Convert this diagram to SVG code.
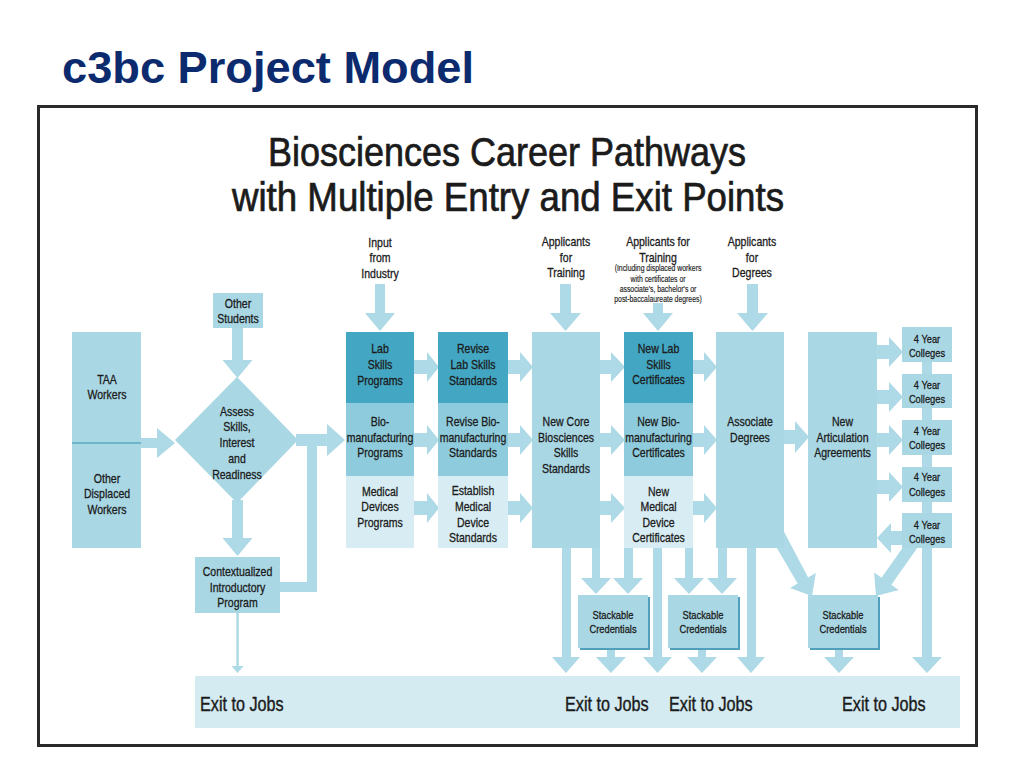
<svg xmlns="http://www.w3.org/2000/svg" width="1024" height="768" viewBox="0 0 1024 768">
<style>
.t{font-family:"Liberation Sans",Arial,sans-serif;fill:#1b1b1b;stroke:#1b1b1b;stroke-width:.3;text-anchor:middle;font-size:13px}
.s{font-size:11.5px}
.xs{font-size:8.5px;stroke-width:.15}
.ex{font-size:20px;text-anchor:start;stroke-width:.4}
.hd{font-size:40px;stroke-width:.7}
.box{fill:#a9d7e4}
.dark{fill:#43a6c2}
.mid{fill:#8ecbdc}
.light{fill:#d8edf3}
.arr{fill:#aed9e6}
.shadow{fill:#4f9fbd}
</style>
<rect width="1024" height="768" fill="#ffffff"/>
<text x="62" y="83" font-family="Liberation Sans,Arial,sans-serif" font-weight="bold" font-size="44" fill="#0c2a6e" textLength="412" lengthAdjust="spacingAndGlyphs">c3bc Project Model</text>
<rect x="38.5" y="106.5" width="938" height="639" fill="#ffffff" stroke="#2a2a2a" stroke-width="3"/>
<text class="t hd" x="507" y="166" textLength="478" lengthAdjust="spacingAndGlyphs">Biosciences Career Pathways</text>
<text class="t hd" x="508" y="211" textLength="552" lengthAdjust="spacingAndGlyphs">with Multiple Entry and Exit Points</text>

<g id="exit-bar">
<rect x="195" y="676" width="765" height="52" fill="#d5ebf2"/>
<text class="t ex" transform="translate(200 711) scale(.81 1)">Exit to Jobs</text>
<text class="t ex" transform="translate(565 711) scale(.81 1)">Exit to Jobs</text>
<text class="t ex" transform="translate(669 711) scale(.81 1)">Exit to Jobs</text>
<text class="t ex" transform="translate(842 711) scale(.81 1)">Exit to Jobs</text>
</g>

<g id="connectors" class="arr">
<polygon points="141,438 157,438 157,428 175,443 157,458 157,448 141,448"/>
<polygon points="232,328 243,328 243,360 252.5,360 237.5,378 222.5,360 232,360"/>
<polygon points="232,500 243,500 243,538 252.5,538 237.5,556 222.5,538 232,538"/>
<polygon points="296,434 327,434 327,424 345,440 327,456 327,446 296,446"/>
<polygon points="280,582 307,582 307,444 317,444 317,592 280,592"/>
<rect x="236.3" y="613" width="2.5" height="54"/>
<polygon points="231.5,666 243.5,666 237.5,673"/>
<polygon points="375,284 385,284 385,313 395,313 380,331 365,313 375,313"/>
<polygon points="560,284 571,284 571,313 581,313 565.5,331 550,313 560,313"/>
<polygon points="653,303 663,303 663,313 673,313 658,331 643,313 653,313"/>
<polygon points="747,284 758,284 758,313 768,313 752.5,331 737,313 747,313"/>
<polygon points="413,360 427,360 427,352 439,367 427,382 427,374 413,374"/>
<polygon points="413,433 427,433 427,425 439,440 427,455 427,447 413,447"/>
<polygon points="413,501 427,501 427,493 439,508 427,523 427,515 413,515"/>
<polygon points="508,360 520,360 520,352 533,367 520,382 520,374 508,374"/>
<polygon points="508,433 520,433 520,425 533,440 520,455 520,447 508,447"/>
<polygon points="508,501 520,501 520,493 533,508 520,523 520,515 508,515"/>
<polygon points="600,360 611,360 611,352 625,367 611,382 611,374 600,374"/>
<polygon points="600,433 611,433 611,425 625,440 611,455 611,447 600,447"/>
<polygon points="600,501 611,501 611,493 625,508 611,523 611,515 600,515"/>
<polygon points="693,360 704,360 704,352 717,367 704,382 704,374 693,374"/>
<polygon points="693,433 704,433 704,425 717,440 704,455 704,447 693,447"/>
<polygon points="693,501 704,501 704,493 717,508 704,523 704,515 693,515"/>
<polygon points="784,430 795,430 795,421 809,437 795,453 795,444 784,444"/>
<polygon points="877,345 889,345 889,337 903,352 889,367 889,359 877,359"/>
<polygon points="877,390 889,390 889,382 903,397 889,412 889,404 877,404"/>
<polygon points="877,433 889,433 889,425 903,440 889,455 889,447 877,447"/>
<polygon points="877,480 889,480 889,472 903,487 889,502 889,494 877,494"/>
<polygon points="903,531 891,531 891,523 877,538 891,553 891,545 903,545"/>
<polygon points="922,345 932,345 932,657 942,657 927,673 912,657 922,657"/>
<polygon points="562,546 571,546 571,657 580,657 566,673 552,657 562,657"/>
<polygon points="592,546 600,546 600,578 611,578 596,594 581,578 592,578"/>
<polygon points="624,546 633,546 633,578 643,578 628,594 613,578 624,578"/>
<polygon points="653,546 662,546 662,657 672,657 657.5,673 643,657 653,657"/>
<polygon points="685,546 693,546 693,578 704,578 689,594 674,578 685,578"/>
<polygon points="718,546 727,546 727,578 737,578 722,594 707,578 718,578"/>
<polygon points="747,546 756,546 756,657 765,657 751,673 737,657 747,657"/>
<polygon points="607,646 615,646 615,657 626,657 611,673 596,657 607,657"/>
<polygon points="698,646 706,646 706,657 717,657 702,673 687,657 698,657"/>
<polygon points="835,646 843,646 843,657 854,657 839,673 824,657 835,657"/>
<polygon points="784.2,532 808.1,577.5 815.8,572.9 812,596 790,588.1 797.7,583.5 771,538"/>
<polygon points="907.1,541.5 881.5,577.8 874.1,572.6 876,596 898.7,590 891.3,584.8 916.9,548.5"/>
</g>

<g id="taa-workers">
<rect class="box" x="72" y="332" width="69" height="216"/>
<rect x="72" y="442" width="69" height="2" fill="#6db5ca"/>
<text class="t" transform="translate(107 384) scale(.81 1)">TAA</text>
<text class="t" transform="translate(107 399) scale(.81 1)">Workers</text>
<text class="t" transform="translate(107 483) scale(.81 1)">Other</text>
<text class="t" transform="translate(107 498) scale(.81 1)">Displaced</text>
<text class="t" transform="translate(107 514) scale(.81 1)">Workers</text>
</g>

<g id="other-students">
<rect class="box" x="213" y="293" width="50" height="35"/>
<text class="t" transform="translate(238 307.5) scale(.81 1)">Other</text>
<text class="t" transform="translate(238 322.5) scale(.81 1)">Students</text>
</g>

<g id="assess">
<polygon class="box" points="237,377 298,440 237,503 175,440"/>
<text class="t" transform="translate(237 416) scale(.81 1)">Assess</text>
<text class="t" transform="translate(237 431) scale(.81 1)">Skills,</text>
<text class="t" transform="translate(237 447) scale(.81 1)">Interest</text>
<text class="t" transform="translate(237 463) scale(.81 1)">and</text>
<text class="t" transform="translate(237 479) scale(.81 1)">Readiness</text>
</g>

<g id="contextualized">
<rect class="box" x="195" y="557" width="85" height="56"/>
<text class="t" transform="translate(237.5 576) scale(.81 1)">Contextualized</text>
<text class="t" transform="translate(237.5 592) scale(.81 1)">Introductory</text>
<text class="t" transform="translate(237.5 607) scale(.81 1)">Program</text>
</g>

<g id="input-industry">
<text class="t" transform="translate(380 247) scale(.81 1)">Input</text>
<text class="t" transform="translate(380 262) scale(.81 1)">from</text>
<text class="t" transform="translate(380 278) scale(.81 1)">Industry</text>
</g>
<g id="applicants-training-1">
<text class="t" transform="translate(566 246) scale(.81 1)">Applicants</text>
<text class="t" transform="translate(566 262) scale(.81 1)">for</text>
<text class="t" transform="translate(566 277) scale(.81 1)">Training</text>
</g>
<g id="applicants-training-2">
<text class="t" transform="translate(658 246) scale(.81 1)">Applicants for</text>
<text class="t" transform="translate(658 262) scale(.81 1)">Training</text>
<text class="t xs" transform="translate(658 271) scale(.81 1)">(Including displaced workers</text>
<text class="t xs" transform="translate(658 282) scale(.81 1)">with certificates or</text>
<text class="t xs" transform="translate(658 292) scale(.81 1)">associate's, bachelor's or</text>
<text class="t xs" transform="translate(658 302) scale(.81 1)">post-baccalaureate degrees)</text>
</g>
<g id="applicants-degrees">
<text class="t" transform="translate(752 246) scale(.81 1)">Applicants</text>
<text class="t" transform="translate(752 262) scale(.81 1)">for</text>
<text class="t" transform="translate(752 277) scale(.81 1)">Degrees</text>
</g>

<g id="programs">
<rect class="dark" x="346" y="332" width="68" height="71"/>
<rect class="mid" x="346" y="403" width="68" height="73"/>
<rect class="light" x="346" y="476" width="68" height="72"/>
<text class="t" transform="translate(380 352.5) scale(.81 1)">Lab</text>
<text class="t" transform="translate(380 368.5) scale(.81 1)">Skills</text>
<text class="t" transform="translate(380 384.5) scale(.81 1)">Programs</text>
<text class="t" transform="translate(380 425.5) scale(.81 1)">Bio-</text>
<text class="t" transform="translate(380 441.5) scale(.81 1)">manufacturing</text>
<text class="t" transform="translate(380 456.5) scale(.81 1)">Programs</text>
<text class="t" transform="translate(380 495.5) scale(.81 1)">Medical</text>
<text class="t" transform="translate(380 510.5) scale(.81 1)">Devices</text>
<text class="t" transform="translate(380 526.5) scale(.81 1)">Programs</text>
</g>

<g id="standards">
<rect class="dark" x="438" y="332" width="70" height="71"/>
<rect class="mid" x="438" y="403" width="70" height="73"/>
<rect class="light" x="438" y="476" width="70" height="72"/>
<text class="t" transform="translate(473 352.5) scale(.81 1)">Revise</text>
<text class="t" transform="translate(473 368.5) scale(.81 1)">Lab Skills</text>
<text class="t" transform="translate(473 384.5) scale(.81 1)">Standards</text>
<text class="t" transform="translate(473 425.5) scale(.81 1)">Revise Bio-</text>
<text class="t" transform="translate(473 441.5) scale(.81 1)">manufacturing</text>
<text class="t" transform="translate(473 456.5) scale(.81 1)">Standards</text>
<text class="t" transform="translate(473 494.5) scale(.81 1)">Establish</text>
<text class="t" transform="translate(473 510.5) scale(.81 1)">Medical</text>
<text class="t" transform="translate(473 526.5) scale(.81 1)">Device</text>
<text class="t" transform="translate(473 541.5) scale(.81 1)">Standards</text>
</g>

<g id="core-standards">
<rect class="box" x="532" y="332" width="68" height="216"/>
<text class="t" transform="translate(566 425.5) scale(.81 1)">New Core</text>
<text class="t" transform="translate(566 441.5) scale(.81 1)">Biosciences</text>
<text class="t" transform="translate(566 456.5) scale(.81 1)">Skills</text>
<text class="t" transform="translate(566 472.5) scale(.81 1)">Standards</text>
</g>

<g id="certificates">
<rect class="dark" x="624" y="332" width="69" height="71"/>
<rect class="mid" x="624" y="403" width="69" height="73"/>
<rect class="light" x="624" y="476" width="69" height="72"/>
<text class="t" transform="translate(658.5 352.5) scale(.81 1)">New Lab</text>
<text class="t" transform="translate(658.5 368.5) scale(.81 1)">Skills</text>
<text class="t" transform="translate(658.5 383.5) scale(.81 1)">Certificates</text>
<text class="t" transform="translate(658.5 425.5) scale(.81 1)">New Bio-</text>
<text class="t" transform="translate(658.5 441.5) scale(.81 1)">manufacturing</text>
<text class="t" transform="translate(658.5 456.5) scale(.81 1)">Certificates</text>
<text class="t" transform="translate(658.5 495.5) scale(.81 1)">New</text>
<text class="t" transform="translate(658.5 510.5) scale(.81 1)">Medical</text>
<text class="t" transform="translate(658.5 526.5) scale(.81 1)">Device</text>
<text class="t" transform="translate(658.5 541.5) scale(.81 1)">Certificates</text>
</g>

<g id="associate-degrees">
<rect class="box" x="716" y="332" width="68" height="216"/>
<text class="t" transform="translate(750 425.5) scale(.81 1)">Associate</text>
<text class="t" transform="translate(750 441.5) scale(.81 1)">Degrees</text>
</g>

<g id="articulation">
<rect class="box" x="808" y="332" width="69" height="216"/>
<text class="t" transform="translate(842.5 425.5) scale(.81 1)">New</text>
<text class="t" transform="translate(842.5 441.5) scale(.81 1)">Articulation</text>
<text class="t" transform="translate(842.5 456.5) scale(.81 1)">Agreements</text>
</g>

<g id="colleges-1"><rect class="box" x="902" y="327" width="50" height="35"/><text class="t s" transform="translate(927 343) scale(.81 1)">4 Year</text><text class="t s" transform="translate(927 357) scale(.81 1)">Colleges</text></g>
<g id="colleges-2"><rect class="box" x="902" y="374" width="50" height="34"/><text class="t s" transform="translate(927 389) scale(.81 1)">4 Year</text><text class="t s" transform="translate(927 403) scale(.81 1)">Colleges</text></g>
<g id="colleges-3"><rect class="box" x="902" y="420" width="50" height="35"/><text class="t s" transform="translate(927 435) scale(.81 1)">4 Year</text><text class="t s" transform="translate(927 449) scale(.81 1)">Colleges</text></g>
<g id="colleges-4"><rect class="box" x="902" y="467" width="50" height="35"/><text class="t s" transform="translate(927 481) scale(.81 1)">4 Year</text><text class="t s" transform="translate(927 496) scale(.81 1)">Colleges</text></g>
<g id="colleges-5"><rect class="box" x="902" y="513" width="50" height="35"/><text class="t s" transform="translate(927 529) scale(.81 1)">4 Year</text><text class="t s" transform="translate(927 543) scale(.81 1)">Colleges</text></g>

<g id="stackable-1">
<rect class="shadow" x="580" y="597" width="70" height="53"/>
<rect class="box" x="578" y="595" width="70" height="53"/>
<text class="t s" transform="translate(613 619) scale(.81 1)">Stackable</text>
<text class="t s" transform="translate(613 633) scale(.81 1)">Credentials</text>
</g>
<g id="stackable-2">
<rect class="shadow" x="670" y="597" width="70" height="53"/>
<rect class="box" x="668" y="595" width="70" height="53"/>
<text class="t s" transform="translate(703 619) scale(.81 1)">Stackable</text>
<text class="t s" transform="translate(703 633) scale(.81 1)">Credentials</text>
</g>
<g id="stackable-3">
<rect class="shadow" x="810" y="597" width="70" height="53"/>
<rect class="box" x="808" y="595" width="70" height="53"/>
<text class="t s" transform="translate(843 619) scale(.81 1)">Stackable</text>
<text class="t s" transform="translate(843 633) scale(.81 1)">Credentials</text>
</g>
</svg>
